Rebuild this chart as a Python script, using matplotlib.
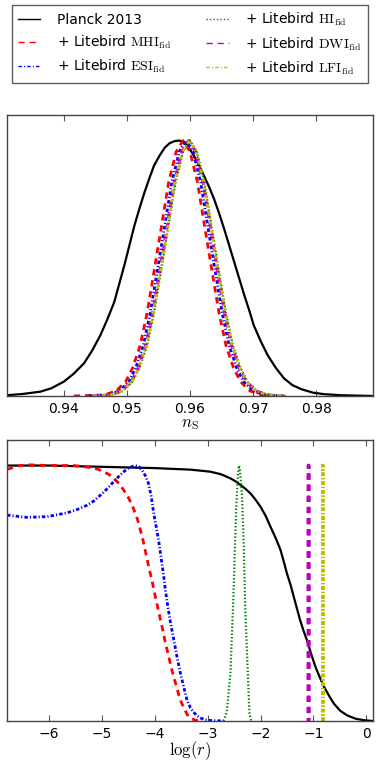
import numpy as np
import matplotlib
matplotlib.use("Agg")
import matplotlib.pyplot as plt
from matplotlib.lines import Line2D

plt.rcParams["mathtext.fontset"] = "cm"
plt.rcParams["font.family"] = ["DejaVu Sans"]
plt.rcParams["lines.scale_dashes"] = False

# ---- data ----
labels = ["Planck 2013",
          r"+ Litebird $\mathrm{MHI}_{\mathrm{fid}}$",
          r"+ Litebird $\mathrm{ESI}_{\mathrm{fid}}$",
          r"+ Litebird $\mathrm{HI}_{\mathrm{fid}}$",
          r"+ Litebird $\mathrm{DWI}_{\mathrm{fid}}$",
          r"+ Litebird $\mathrm{LFI}_{\mathrm{fid}}$"]

# n_s marginals
ns_planck_x = [0.931, 0.9335, 0.9363, 0.938, 0.940, 0.9416, 0.9432, 0.9445, 0.9458, 0.9469,
               0.948, 0.9488, 0.9496, 0.9504, 0.9512, 0.952, 0.9528, 0.9536, 0.9543, 0.9552,
               0.956, 0.9568, 0.9576, 0.9583, 0.9591, 0.9598, 0.9606, 0.9614, 0.9622, 0.963,
               0.9638, 0.9646, 0.9654, 0.9662, 0.967, 0.9678, 0.9686, 0.9694, 0.9701, 0.9712,
               0.9723, 0.9736, 0.9749, 0.9762, 0.9776, 0.9795, 0.9813, 0.984, 0.989]
ns_planck_y = [0.003, 0.008, 0.017, 0.030, 0.056, 0.088, 0.128, 0.178, 0.238, 0.300,
               0.368, 0.44, 0.512, 0.59, 0.668, 0.735, 0.798, 0.855, 0.902, 0.942,
               0.972, 0.99, 0.998, 1.0, 0.994, 0.972, 0.941, 0.904, 0.863, 0.82,
               0.772, 0.716, 0.655, 0.59, 0.525, 0.46, 0.395, 0.334, 0.277, 0.215,
               0.16, 0.11, 0.069, 0.043, 0.027, 0.013, 0.007, 0.003, 0.0]

# heights shared by the Litebird n_s curves, and where each curve crosses them
ns_fid_y = [0.0, 0.004, 0.020, 0.056, 0.110, 0.198, 0.325, 0.487, 0.667, 0.835, 0.956, 1.0,
            0.956, 0.835, 0.667, 0.487, 0.325, 0.198, 0.110, 0.056, 0.020, 0.004, 0.0]
ns_mhi_x = [0.9416, 0.9464, 0.9483, 0.9498, 0.9509, 0.9521, 0.9532, 0.9543, 0.9555, 0.9566, 0.9578, 0.9589,
            0.9600, 0.9612, 0.9623, 0.9635, 0.9646, 0.9657, 0.9669, 0.9680, 0.9695, 0.9714, 0.9741]
ns_esi_x = [0.9440, 0.9469, 0.9488, 0.9503, 0.9514, 0.9526, 0.9537, 0.9548, 0.9560, 0.9571, 0.9583, 0.9594,
            0.9605, 0.9617, 0.9628, 0.9640, 0.9651, 0.9662, 0.9674, 0.9685, 0.9700, 0.9719, 0.9746]
ns_hi_x = [0.9448, 0.9475, 0.9494, 0.9509, 0.9520, 0.9532, 0.9543, 0.9554, 0.9566, 0.9577, 0.9589, 0.9600,
           0.9611, 0.9623, 0.9634, 0.9646, 0.9657, 0.9668, 0.9680, 0.9691, 0.9706, 0.9725, 0.9752]
ns_dwi_x = [0.9446, 0.9473, 0.9492, 0.9507, 0.9518, 0.9530, 0.9541, 0.9552, 0.9564, 0.9575, 0.9587, 0.9598,
            0.9609, 0.9621, 0.9632, 0.9644, 0.9655, 0.9666, 0.9678, 0.9689, 0.9704, 0.9723, 0.9750]
ns_lfi_x = [0.9447, 0.9474, 0.9493, 0.9508, 0.9519, 0.9531, 0.9542, 0.9553, 0.9565, 0.9576, 0.9588, 0.9599,
            0.9610, 0.9622, 0.9633, 0.9645, 0.9656, 0.9667, 0.9679, 0.9690, 0.9705, 0.9724, 0.9751]

# log(r) marginals
lr_planck_x = [-6.8, -6.0, -5.0, -4.0, -3.33, -2.95, -2.75, -2.57, -2.47, -2.38, -2.28, -2.19,
               -2.10, -2.0, -1.90, -1.81, -1.71, -1.62, -1.56, -1.50, -1.43, -1.37, -1.31, -1.25,
               -1.185, -1.12, -1.04, -0.96, -0.88, -0.80, -0.70, -0.61, -0.49, -0.36, -0.20, -0.04, 0.13]
lr_planck_y = [1.0, 1.0, 0.995, 0.99, 0.984, 0.976, 0.966, 0.95, 0.938, 0.924, 0.908, 0.891,
               0.868, 0.839, 0.802, 0.76, 0.715, 0.669, 0.624, 0.578, 0.532, 0.486, 0.44, 0.395,
               0.353, 0.316, 0.262, 0.212, 0.172, 0.135, 0.098, 0.068, 0.04, 0.022, 0.009, 0.003, 0.0]
lr_mhi_x = [-6.8, -6.6, -6.42, -6.0, -5.54, -5.35, -5.16, -5.06, -4.97, -4.87, -4.78, -4.68,
            -4.59, -4.51, -4.43, -4.33, -4.24, -4.18, -4.115, -4.05, -3.99, -3.925, -3.86, -3.80,
            -3.735, -3.69, -3.64, -3.59, -3.545, -3.50, -3.45, -3.40, -3.36, -3.30, -3.24, -3.17]
lr_mhi_y = [0.985, 0.998, 1.003, 1.0, 1.0, 0.996, 0.99, 0.984, 0.976, 0.965, 0.95, 0.93,
            0.904, 0.878, 0.845, 0.79, 0.721, 0.665, 0.603, 0.545, 0.486, 0.425, 0.365, 0.305,
            0.25, 0.21, 0.17, 0.135, 0.10, 0.073, 0.05, 0.03, 0.016, 0.008, 0.004, 0.0]
lr_esi_x = [-6.8, -6.42, -6.04, -5.66, -5.47, -5.28, -5.15, -5.03, -4.9, -4.78, -4.68, -4.59,
            -4.48, -4.37, -4.30, -4.24, -4.18, -4.12, -4.07, -4.02, -3.975, -3.93, -3.885, -3.84,
            -3.80, -3.755, -3.70, -3.64, -3.58, -3.515, -3.45, -3.39, -3.33, -3.27, -3.20, -3.14,
            -3.05, -2.95, -2.70]
lr_esi_y = [0.806, 0.797, 0.80, 0.815, 0.828, 0.845, 0.862, 0.884, 0.91, 0.937, 0.958, 0.976,
            0.992, 1.0, 0.995, 0.982, 0.96, 0.93, 0.88, 0.81, 0.76, 0.708, 0.643, 0.578,
            0.512, 0.447, 0.38, 0.316, 0.25, 0.186, 0.13, 0.081, 0.053, 0.035, 0.02, 0.012,
            0.005, 0.002, 0.0]
lr_hi_x = [-2.70, -2.64, -2.57, -2.52, -2.48, -2.46, -2.44, -2.425, -2.41, -2.395, -2.38, -2.365,
           -2.35, -2.32, -2.29, -2.24, -2.21, -2.18]
lr_hi_y = [0.0, 0.033, 0.186, 0.447, 0.708, 0.83, 0.92, 0.97, 1.0, 0.99, 0.96, 0.925,
           0.88, 0.708, 0.447, 0.186, 0.033, 0.0]
lr_dwi_x = [-1.09, -1.09, -1.09]
lr_dwi_y = [0.0, 1.0, 0.0]
lr_lfi_x = [-0.82, -0.82, -0.82]
lr_lfi_y = [0.0, 1.0, 0.0]

# ---- styles ----
dashed = (0, (4.5, 3.5))
dashdot = (0, (2.5, 1.5, 0.8, 1.5))
dotted = (0, (1, 1.5))
styles = [
    dict(color="k", ls="-", lw=1.6),
    dict(color="r", ls=dashed, lw=2.0),
    dict(color="b", ls=dashdot, lw=2.0),
    dict(color="g", ls=dotted, lw=1.6),
    dict(color="m", ls=dashed, lw=2.2),
    dict(color="y", ls=dashdot, lw=2.0),
]
# the very narrow log(r) peaks go up and straight back down; shift the dash phase
# so the two strokes land on top of each other and the gaps stay visible
narrow_ls = {4: (2.35, (4.5, 3.5)), 5: (0.05, (2.5, 1.5, 0.8, 1.5))}

fig = plt.figure(figsize=(3.79, 7.67), dpi=100)
ax1 = fig.add_axes([7 / 379, 371 / 767, 366 / 379, 281 / 767])
ax2 = fig.add_axes([7 / 379, 46 / 767, 366 / 379, 281 / 767])

ns_curves = [(ns_planck_x, ns_planck_y), (ns_mhi_x, ns_fid_y), (ns_esi_x, ns_fid_y),
             (ns_hi_x, ns_fid_y), (ns_dwi_x, ns_fid_y), (ns_lfi_x, ns_fid_y)]
lr_curves = [(lr_planck_x, lr_planck_y), (lr_mhi_x, lr_mhi_y), (lr_esi_x, lr_esi_y),
             (lr_hi_x, lr_hi_y), (lr_dwi_x, lr_dwi_y), (lr_lfi_x, lr_lfi_y)]

for (x, y), st in zip(ns_curves, styles):
    ax1.plot(x, y, **st)
for i, ((x, y), st) in enumerate(zip(lr_curves, styles)):
    st = dict(st)
    if i in narrow_ls:
        st["ls"] = narrow_ls[i]
        st["lw"] = 2.6
    ax2.plot(x, y, snap=False, **st)

ax1.set_xlim(0.931, 0.989)
ax1.set_xticks([0.94, 0.95, 0.96, 0.97, 0.98])
ax1.set_xlabel(r"$n_{\rm S}$", fontsize=12, labelpad=-1)
ax2.set_xlim(-6.8, 0.13)
ax2.set_xticks([-6, -5, -4, -3, -2, -1, 0])
ax2.set_xticklabels(["\u22126", "\u22125", "\u22124", "\u22123", "\u22122", "\u22121", "0"])
ax2.set_xlabel(r"$\log(r)$", fontsize=12, labelpad=-1)

for ax in (ax1, ax2):
    ax.set_ylim(0, 1.1)
    ax.set_yticks([])
    ax.tick_params(axis="x", direction="in", top=True, length=4, width=0.8,
                   labelsize=10, pad=4, color="#555555")
    for sp in ax.spines.values():
        sp.set_color("#444444")
        sp.set_linewidth(1.0)

handles = [Line2D([], [], color=st["color"], ls=st["ls"], lw=1.0) for st in styles]
leg = fig.legend(handles, labels, loc="upper center", bbox_to_anchor=(0.501, 1 - 5 / 767),
                 ncol=2, fontsize=10, frameon=True, fancybox=False, borderaxespad=0,
                 borderpad=0.44, handlelength=1.6, handletextpad=1.2, columnspacing=2.5,
                 labelspacing=0.48)
leg.get_frame().set_edgecolor("#333333")
leg.get_frame().set_linewidth(1.0)

fig.savefig("out.png", dpi=100)
